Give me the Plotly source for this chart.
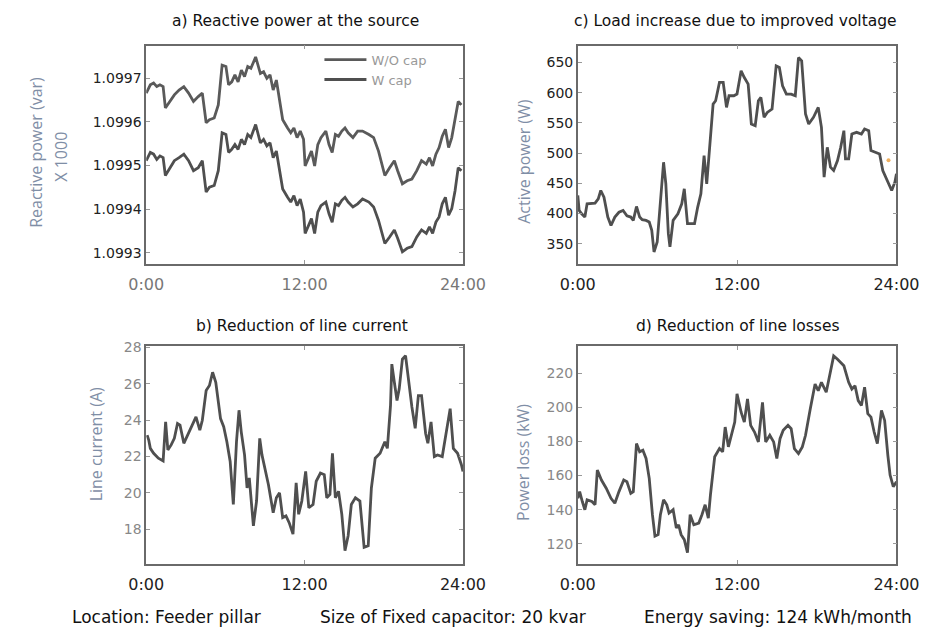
import plotly.graph_objects as go

# ---------------- data ----------------
hours_a = [0.0, 0.31, 0.56, 0.80, 1.04, 1.28, 1.45, 1.76, 2.13, 2.49, 2.85, 3.21, 3.58, 3.94, 4.25,
           4.54, 4.79, 5.15, 5.46, 5.75, 6.04, 6.24, 6.48, 6.72, 6.96, 7.21, 7.45, 7.69, 7.93, 8.29,
           8.65, 8.89, 9.14, 9.38, 9.62, 9.86, 10.10, 10.34, 10.71, 10.95, 11.19, 11.43, 11.67, 11.92,
           12.04, 12.28, 12.52, 12.76, 13.00, 13.24, 13.61, 13.85, 14.09, 14.33, 14.57, 14.82, 15.06,
           15.30, 15.66, 16.02, 16.39, 16.87, 17.23, 17.60, 18.08, 18.44, 18.80, 19.05, 19.41, 19.77,
           20.13, 20.50, 20.86, 21.22, 21.46, 21.70, 21.95, 22.19, 22.43, 22.67, 22.91, 23.15, 23.40,
           23.64, 23.88]
q_without_cap = [1.099666, 1.099685, 1.099689, 1.099681, 1.099685, 1.099681, 1.099632, 1.099647,
                 1.099662, 1.099673, 1.099681, 1.099666, 1.099647, 1.099658, 1.099666, 1.099598,
                 1.099605, 1.099609, 1.099639, 1.099730, 1.099727, 1.099685, 1.099692, 1.099708,
                 1.099692, 1.099719, 1.099704, 1.099727, 1.099723, 1.099749, 1.099711, 1.099715,
                 1.099700, 1.099708, 1.099673, 1.099696, 1.099647, 1.099605, 1.099586, 1.099575,
                 1.099586, 1.099564, 1.099579, 1.099560, 1.099499, 1.099518, 1.099533, 1.099499,
                 1.099548, 1.099564, 1.099579, 1.099548, 1.099530, 1.099571, 1.099567, 1.099579,
                 1.099586, 1.099575, 1.099564, 1.099579, 1.099579, 1.099571, 1.099564, 1.099533,
                 1.099477, 1.099495, 1.099511, 1.099488, 1.099458, 1.099465, 1.099469, 1.099488,
                 1.099511, 1.099503, 1.099518, 1.099499, 1.099526, 1.099541, 1.099567, 1.099583,
                 1.099541, 1.099564, 1.099602, 1.099647, 1.099639]
q_with_cap = [1.099511, 1.099530, 1.099526, 1.099514, 1.099522, 1.099518, 1.099477, 1.099492,
              1.099511, 1.099518, 1.099526, 1.099511, 1.099488, 1.099495, 1.099511, 1.099439,
              1.099450, 1.099454, 1.099488, 1.099575, 1.099571, 1.099530, 1.099537, 1.099548,
              1.099537, 1.099560, 1.099548, 1.099571, 1.099564, 1.099594, 1.099552, 1.099560,
              1.099545, 1.099552, 1.099518, 1.099533, 1.099488, 1.099446, 1.099427, 1.099416,
              1.099431, 1.099408, 1.099423, 1.099393, 1.099344, 1.099363, 1.099378, 1.099344,
              1.099393, 1.099408, 1.099416, 1.099389, 1.099370, 1.099412, 1.099408, 1.099420,
              1.099427, 1.099416, 1.099405, 1.099412, 1.099423, 1.099416, 1.099405, 1.099374,
              1.099321, 1.099336, 1.099352, 1.099333, 1.099302, 1.099310, 1.099314, 1.099336,
              1.099352, 1.099344, 1.099359, 1.099344, 1.099370, 1.099382, 1.099412, 1.099427,
              1.099386, 1.099401, 1.099442, 1.099495, 1.099488]

hours_b = [0.07, 0.19, 0.31, 0.56, 0.92, 1.28, 1.47, 1.64, 1.89, 2.13, 2.37, 2.56, 2.85, 3.14, 3.46,
           3.77, 4.06, 4.25, 4.54, 4.79, 5.03, 5.27, 5.63, 5.87, 6.11, 6.36, 6.60, 6.84, 7.03, 7.20,
           7.45, 7.64, 7.81, 8.12, 8.36, 8.60, 8.77, 9.01, 9.26, 9.62, 9.86, 10.10, 10.34, 10.59,
           10.83, 11.12, 11.36, 11.55, 11.79, 12.08, 12.32, 12.64, 12.88, 13.20, 13.49, 13.68, 13.92,
           14.11, 14.33, 14.57, 14.82, 15.06, 15.30, 15.54, 15.85, 16.19, 16.51, 16.82, 17.06, 17.35,
           17.72, 18.08, 18.27, 18.51, 18.61, 18.80, 19.00, 19.17, 19.41, 19.65, 19.89, 20.13, 20.38,
           20.62, 20.86, 21.17, 21.34, 21.58, 21.83, 22.07, 22.43, 22.79, 23.03, 23.27, 23.59, 23.88,
           24.00]
line_current = [23.18, 22.91, 22.45, 22.18, 21.91, 21.76, 23.91, 22.36, 22.64, 23.00, 23.82, 23.73,
                22.73, 23.18, 23.73, 24.18, 23.45, 24.00, 25.64, 25.91, 26.64, 26.09, 24.09, 23.64,
                22.82, 21.73, 19.36, 22.82, 24.55, 23.36, 22.09, 20.27, 20.82, 18.18, 19.55, 23.00,
                22.09, 21.27, 20.45, 18.91, 19.73, 20.00, 18.64, 18.73, 18.36, 17.73, 20.55, 18.82,
                19.55, 21.18, 19.18, 19.36, 20.64, 21.09, 21.00, 19.73, 19.91, 22.18, 19.73, 20.09,
                18.82, 16.82, 17.64, 19.36, 19.73, 19.55, 17.00, 17.09, 20.27, 21.91, 22.18, 22.82,
                22.45, 24.82, 27.09, 26.09, 25.09, 25.73, 27.36, 27.55, 26.09, 24.73, 23.55, 25.36,
                25.36, 23.27, 22.73, 23.91, 22.00, 22.09, 22.00, 23.55, 24.64, 22.45, 22.18, 21.55,
                21.18]

hours_c = [0.0, 0.10, 0.29, 0.53, 0.70, 1.06, 1.30, 1.54, 1.73, 1.97, 2.26, 2.50, 2.79, 3.10, 3.41,
           3.70, 3.99, 4.18, 4.42, 4.66, 4.85, 5.14, 5.38, 5.57, 5.74, 5.98, 6.22, 6.46, 6.63, 6.82,
           6.94, 7.18, 7.54, 7.83, 8.02, 8.26, 8.50, 8.79, 9.03, 9.27, 9.51, 9.71, 9.83, 9.99, 10.19,
           10.38, 10.67, 10.95, 11.20, 11.39, 11.75, 11.99, 12.30, 12.54, 12.83, 13.07, 13.36, 13.60,
           13.79, 14.03, 14.27, 14.63, 14.94, 15.18, 15.42, 15.71, 16.07, 16.38, 16.62, 16.86, 17.15,
           17.39, 17.75, 18.11, 18.35, 18.55, 18.79, 19.03, 19.27, 19.56, 19.80, 20.04, 20.16, 20.40,
           20.64, 21.00, 21.36, 21.60, 21.91, 22.08, 22.44, 22.73, 22.97, 23.28, 23.64, 23.88, 24.00]
active_power = [429.8, 405.0, 399.5, 394.0, 416.0, 416.0, 417.0, 424.0, 438.0, 427.0, 394.0, 380.0,
                394.0, 402.0, 405.0, 396.0, 394.0, 388.5, 411.6, 394.0, 389.6, 388.5, 385.8, 372.0,
                336.2, 352.7, 416.0, 484.8, 449.0, 366.5, 344.5, 388.5, 399.5, 416.0, 440.8, 383.0,
                383.0, 383.0, 410.5, 432.6, 495.9, 449.0, 482.1, 526.1, 581.2, 586.7, 617.0, 617.0,
                575.7, 595.0, 595.0, 597.7, 636.2, 625.2, 614.2, 548.2, 545.4, 586.7, 592.2, 559.2,
                567.4, 572.9, 644.5, 641.7, 611.5, 597.7, 597.7, 595.0, 658.3, 652.8, 564.7, 548.2,
                559.2, 575.7, 542.7, 460.1, 509.6, 476.6, 471.1, 487.6, 509.6, 537.1, 490.4, 490.4,
                531.6, 534.4, 531.6, 539.9, 537.1, 504.1, 501.4, 498.6, 471.1, 454.6, 438.0, 451.8,
                465.6]
stray_hour = [23.4]
stray_value = [488.0]

hours_d = [0.0, 0.14, 0.34, 0.53, 0.70, 1.06, 1.30, 1.47, 1.78, 2.14, 2.50, 2.79, 3.10, 3.46, 3.70,
           3.99, 4.18, 4.42, 4.66, 4.90, 5.14, 5.38, 5.62, 5.81, 6.05, 6.22, 6.46, 6.70, 6.87, 7.18,
           7.42, 7.59, 7.78, 8.02, 8.26, 8.46, 8.74, 9.11, 9.35, 9.59, 9.83, 9.99, 10.31, 10.67,
           10.91, 11.10, 11.34, 11.58, 11.82, 11.99, 12.30, 12.54, 12.78, 13.02, 13.31, 13.60, 13.91,
           14.15, 14.46, 14.75, 14.99, 15.23, 15.47, 15.83, 16.07, 16.31, 16.62, 16.91, 17.15, 17.51,
           17.87, 18.11, 18.35, 18.71, 18.95, 19.27, 19.56, 20.04, 20.40, 20.64, 20.88, 21.12, 21.36,
           21.60, 21.84, 22.08, 22.32, 22.56, 22.87, 23.11, 23.35, 23.52, 23.76, 24.00]
power_loss = [146.7, 150.6, 144.8, 140.0, 145.8, 144.8, 142.9, 163.2, 157.4, 152.6, 146.7, 143.8,
              150.6, 157.4, 156.4, 149.6, 150.6, 178.7, 173.9, 174.8, 170.0, 158.4, 137.1, 124.5,
              125.4, 137.1, 145.8, 142.9, 138.0, 140.0, 129.3, 131.2, 125.4, 122.5, 114.8, 137.1,
              131.2, 132.2, 137.1, 142.9, 135.1, 148.7, 171.0, 175.8, 173.9, 188.4, 176.8, 184.5,
              191.3, 207.8, 197.1, 191.3, 204.9, 189.4, 185.5, 179.7, 202.9, 179.7, 183.6, 179.7,
              170.0, 181.6, 186.5, 189.4, 187.4, 175.8, 172.9, 176.8, 183.6, 199.1, 213.6, 209.7,
              214.6, 208.8, 218.4, 230.1, 228.1, 224.3, 214.6, 210.7, 212.6, 203.9, 201.0, 211.7,
              196.2, 194.2, 185.5, 178.7, 198.1, 192.3, 171.9, 160.3, 153.5, 156.4]

time_tickvals = [0, 12, 24]
time_ticktext = ["0:00", "12:00", "24:00"]
ticks_a = [1.0993, 1.0994, 1.0995, 1.0996, 1.0997]
ticks_a_text = ["1.0993", "1.0994", "1.0995", "1.0996", "1.0997"]
ticks_b = [18, 20, 22, 24, 26, 28]
ticks_c = [350, 400, 450, 500, 550, 600, 650]
ticks_d = [120, 140, 160, 180, 200, 220]

# ---------------- figure ----------------
LINE = "#4f4f4f"
TXT = "'Open Sans', Lato, sans-serif"
NUM = "'DejaVu Sans', sans-serif"
YTITLE = "#7f8ea6"

fig = go.Figure()
fig.add_trace(go.Scatter(x=hours_a, y=q_without_cap, mode="lines", name="W/O cap",
                         line=dict(color="#5a5a5a", width=2.8), xaxis="x", yaxis="y"))
fig.add_trace(go.Scatter(x=hours_a, y=q_with_cap, mode="lines", name="W cap",
                         line=dict(color=LINE, width=2.8), xaxis="x", yaxis="y"))
fig.add_trace(go.Scatter(x=hours_b, y=line_current, mode="lines", showlegend=False,
                         line=dict(color=LINE, width=2.8), xaxis="x2", yaxis="y2"))
fig.add_trace(go.Scatter(x=hours_c, y=active_power, mode="lines", showlegend=False,
                         line=dict(color=LINE, width=2.8), xaxis="x3", yaxis="y3"))
fig.add_trace(go.Scatter(x=stray_hour, y=stray_value, mode="markers", showlegend=False,
                         marker=dict(color="#f0b060", size=4), xaxis="x3", yaxis="y3"))
fig.add_trace(go.Scatter(x=hours_d, y=power_loss, mode="lines", showlegend=False,
                         line=dict(color=LINE, width=2.8), xaxis="x4", yaxis="y4"))

W, H = 952, 637
left_dom = [134 / W, 465 / W]
right_dom = [585 / W, 918 / W]
top_dom = [1 - 260 / H, 1 - 40 / H]
bot_dom = [1 - 563 / H, 1 - 343 / H]


def xax(domain, anchor, color):
    return dict(domain=domain, anchor=anchor, range=[0, 24], tickvals=time_tickvals,
                ticktext=time_ticktext, showline=True, linecolor="#6a6a6a", linewidth=1.5,
                mirror="ticks", ticks="inside", ticklen=4, tickcolor="#999",
                showgrid=False, zeroline=False, ticklabelstandoff=5,
                tickfont=dict(family=NUM, size=16, color=color))


def yax(domain, anchor, rng, tickvals, ticktext, color):
    return dict(domain=domain, anchor=anchor, range=rng, tickvals=tickvals, ticktext=ticktext,
                showline=True, linecolor="#6a6a6a", linewidth=1.5, mirror="ticks",
                ticks="inside", ticklen=4, tickcolor="#999", showgrid=False, zeroline=False,
                tickfont=dict(family=NUM, size=14, color=color))


fig.update_layout(
    width=W, height=H, margin=dict(l=0, r=0, t=0, b=0),
    paper_bgcolor="white", plot_bgcolor="white",
    xaxis=xax(left_dom, "y", "#777"),
    yaxis=yax(top_dom, "x", [1.099275, 1.099775], ticks_a, ticks_a_text, "#222"),
    xaxis2=xax(left_dom, "y2", "#222"),
    yaxis2=yax(bot_dom, "x2", [16.1, 28.1], ticks_b, [str(v) for v in ticks_b], "#888"),
    xaxis3=xax(right_dom, "y3", "#222"),
    yaxis3=yax(top_dom, "x3", [317, 678], ticks_c, [str(v) for v in ticks_c], "#222"),
    xaxis4=xax(right_dom, "y4", "#222"),
    yaxis4=yax(bot_dom, "x4", [108.4, 236], ticks_d, [str(v) for v in ticks_d], "#888"),
    showlegend=True,
    legend=dict(x=315 / W, y=1 - 39 / H, xanchor="left", yanchor="top",
                bgcolor="rgba(0,0,0,0)", font=dict(family=NUM, size=13, color="#999"),
                tracegroupgap=0, itemwidth=42),
)

annotations = [
    dict(text="a) Reactive power at the source", x=290 / W, y=1 - 15 / H),
    dict(text="c) Load increase due to improved voltage", x=750 / W, y=1 - 15 / H),
    dict(text="b) Reduction of line current", x=297 / W, y=1 - 323 / H),
    dict(text="d) Reduction of line losses", x=752 / W, y=1 - 323 / H),
]
for a in annotations:
    fig.add_annotation(xref="paper", yref="paper", showarrow=False, xanchor="center",
                       yanchor="middle",
                       font=dict(family=NUM, size=15.5, color="#111"), **a)

ytitles = [
    ("Reactive power (var)", 18, 148),
    ("X 1000", 44, 152),
    ("Active power (W)", 528, 157),
    ("Line current (A)", 81, 443),
    ("Power loss (kW)", 527, 461),
]
for txt, px, py in ytitles:
    fig.add_annotation(text=txt, xref="paper", yref="paper", x=px / W, y=1 - py / H,
                       showarrow=False, textangle=-90, xanchor="center", yanchor="middle",
                       font=dict(family=TXT, size=16, color=YTITLE))

footer = [
    ("Location: Feeder pillar", 54),
    ("Size of Fixed capacitor: 20 kvar", 313),
    ("Energy saving: 124 kWh/month", 652),
]
for txt, px in footer:
    fig.add_annotation(text=txt, xref="paper", yref="paper", x=px / W, y=1 - 617 / H,
                       showarrow=False, xanchor="left", yanchor="middle",
                       font=dict(family=NUM, size=17, color="#111"))

fig.write_html("out.html")
